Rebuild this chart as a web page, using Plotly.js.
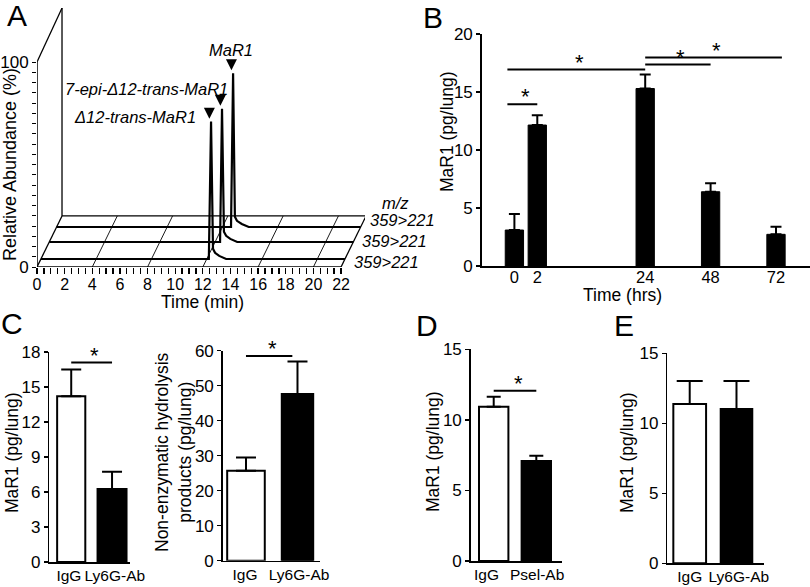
<!DOCTYPE html>
<html><head><meta charset="utf-8">
<script src="https://cdn.plot.ly/plotly-3.0.1.min.js"></script>
<style>html,body{margin:0;padding:0;background:#fff}#chart{width:810px;height:587px}</style>
</head><body><div id="chart"></div>
<script>
// ---------------- DATA ----------------
// Panel A: LC-MS/MS chromatograms (m/z 359>221), time (min) vs relative abundance (%)
const peakNames = ['Δ12-trans-MaR1', '7-epi-Δ12-trans-MaR1', 'MaR1'];
const transitions = ['359>221', '359>221', '359>221'];
const timeD12 = [0, 12.15, 12.31, 12.45, 12.6, 12.9, 13.4, 22];
const abundD12 = [0, 0, 67, 5, 3, 1.5, 0, 0];
const time7epi = [0, 12.36, 12.5, 12.64, 12.8, 13.1, 13.6, 22];
const abund7epi = [0, 0, 65, 5, 3, 1.5, 0, 0];
const timeMaR1 = [0, 12.62, 12.77, 12.9, 13.05, 13.4, 13.9, 22];
const abundMaR1 = [0, 0, 75, 5, 3, 1.5, 0, 0];
const timeTickLabels = ['0','2','4','6','8','10','12','14','16','18','20','22'];

// Panel B: MaR1 time course
const hrsLabels = ['0', '2', '24', '48', '72'];
const mar1Course = [3.1, 12.15, 15.3, 6.4, 2.73];
const mar1CourseErr = [1.38, 0.85, 1.2, 0.73, 0.66];

// Panel C
const groupsC = ['IgG', 'Ly6G-Ab'];
const mar1C = [14.2, 6.25];
const mar1CErr = [2.3, 1.48];
const hydroC = [25.7, 47.6];
const hydroCErr = [3.8, 9.3];

// Panel D
const groupsD = ['IgG', 'Psel-Ab'];
const mar1D = [10.93, 7.08];
const mar1DErr = [0.71, 0.38];

// Panel E
const groupsE = ['IgG', 'Ly6G-Ab'];
const mar1E = [11.38, 11.02];
const mar1EErr = [1.64, 2.0];

// ---------------- LAYOUT HELPERS ----------------
const W = 810, H = 587;
const PX = v => v / W, PY = v => 1 - v / H;
const FONT = 'Liberation Sans, Arial, Helvetica, sans-serif';
const BLACK = '#000';

const frames = {
  A:  {x0: 37,    x1: 365,   y0: 8,     y1: 267,   xr: [0, 328 / 13.82], yr: [0, 259 / 2.05]},
  B:  {x0: 481.7, x1: 810,   y0: 34,    y1: 266,   xr: [-0.5, 4.52],   yr: [0, 20]},
  C1: {x0: 49.3,  x1: 130,   y0: 352,   y1: 562,   xr: [-0.537, 1.44], yr: [0, 18]},
  C2: {x0: 222.7, x1: 320,   y0: 350.7, y1: 560.7, xr: [-0.452, 1.437], yr: [0, 60]},
  D:  {x0: 470.7, x1: 561.7, y0: 349.3, y1: 561,   xr: [-0.54, 1.596], yr: [0, 15]},
  E:  {x0: 667.3, x1: 764,   y0: 353.3, y1: 563.3, xr: [-0.479, 1.588], yr: [0, 15]}
};
const unitPx = f => (f.y1 - f.y0) / (f.yr[1] - f.yr[0]);

function xAxis(f, n, extra) {
  return Object.assign({
    domain: [PX(f.x0), PX(f.x1)], range: f.xr, anchor: n === 1 ? 'y' : 'y' + n,
    showgrid: false, zeroline: false, tickangle: 0, ticklabelstandoff: -4,
    showline: true, linecolor: BLACK, linewidth: 1.5, ticks: '', fixedrange: true,
    tickfont: {family: FONT, size: 16.5, color: BLACK}
  }, extra || {});
}
function catAxis(f, n, cats, shift) {
  return xAxis(f, n, {type: 'category', tickmode: 'array', tickvals: [shift[0], 1 + shift[1]],
    ticktext: cats, ticklabelstandoff: -1, tickfont: {family: FONT, size: 15.5, color: BLACK}});
}
function yAxis(f, n, dtick, extra) {
  return Object.assign({
    domain: [PY(f.y1), PY(f.y0)], range: f.yr, anchor: n === 1 ? 'x' : 'x' + n,
    showgrid: false, zeroline: false,
    showline: true, linecolor: BLACK, linewidth: 1.5, ticks: 'outside', ticklen: 4,
    tickwidth: 1.5, tickcolor: BLACK, tickmode: 'linear', tick0: 0, dtick: dtick,
    fixedrange: true, tickfont: {family: FONT, size: 17, color: BLACK}
  }, extra || {});
}
function errY(arr, capHalf) {
  return {type: 'data', symmetric: false, array: arr, arrayminus: arr.map(() => 0),
          color: BLACK, thickness: 2, width: capHalf};
}

const traces = [];
const shapes = [];
const annotations = [];

// ---------------- PANEL A ----------------
const DT = 1.81, DI = 24.9;            // floor depth in (min, %)
const depth = [0.157, 0.49, 0.784];     // lane depth of each chromatogram
const chroms = [[timeD12, abundD12], [time7epi, abund7epi], [timeMaR1, abundMaR1]];
const uA = unitPx(frames.A);

const ln = (x0, y0, x1, y1, w) => ({type: 'line', xref: 'x', yref: 'y', x0, y0, x1, y1,
  line: {color: BLACK, width: w}, layer: 'below'});
shapes.push(ln(0, 0, 22, 0, 1.3));
shapes.push(ln(22, 0, 22 + DT, DI, 1.3));
shapes.push(ln(DT, DI, 22 + DT, DI, 1.3));
shapes.push(ln(0, 0, DT, DI, 1.3));
[4, 8, 12, 16, 20].forEach(t => shapes.push(ln(t, 0, t + DT, DI, 0.9)));
shapes.push(ln(0, 0, 0, 100, 1.5));
shapes.push(ln(DT, DI, DT, 126.3, 1.3));
shapes.push(ln(0, 100, DT, 126.3, 1.3));

const tipX = [], tipY = [];
chroms.forEach(([t, a], k) => {
  traces.push({
    type: 'scatter', mode: 'lines', xaxis: 'x', yaxis: 'y', hoverinfo: 'skip',
    name: peakNames[k],
    x: t.map(v => v + depth[k] * DT), y: a.map(v => v + depth[k] * DI),
    line: {color: BLACK, width: 2.2}
  });
  const ip = a.indexOf(Math.max(...a));
  tipX.push(t[ip] + depth[k] * DT - 0.12);
  tipY.push(a[ip] + depth[k] * DI + 3 / uA);
  annotations.push({
    xref: 'paper', yref: 'paper', x: PX([368, 360, 352][2 - k]), y: PY([220, 241, 262][2 - k]),
    xanchor: 'left', yanchor: 'middle', showarrow: false,
    text: '<i>' + transitions[k] + '</i>', font: {family: FONT, size: 16.5, color: BLACK}
  });
});
// peak arrowheads
traces.push({type: 'scatter', mode: 'markers', xaxis: 'x', yaxis: 'y', hoverinfo: 'skip',
  x: tipX, y: tipY, marker: {symbol: 'arrow-down', size: 11, color: BLACK, line: {width: 0}}});

annotations.push({xref: 'paper', yref: 'paper', x: PX(380), y: PY(203), xanchor: 'left',
  yanchor: 'middle', showarrow: false, text: '<i>m/z</i>', font: {family: FONT, size: 16.5, color: BLACK}});
[[198, 117, 'right'], [230, 89, 'right'], [231, 50, 'center']].forEach(([x, y, anc], k) => {
  annotations.push({xref: 'paper', yref: 'paper', x: PX(x), y: PY(y), xanchor: anc,
    yanchor: 'middle', showarrow: false, text: '<i>' + peakNames[k] + '</i>',
    font: {family: FONT, size: 16.5, color: BLACK}});
});

const aTickVals = [], aTickText = [];
for (let i = 0; i <= 44; i++) { aTickVals.push(i / 2); aTickText.push(i % 4 === 0 ? timeTickLabels[i / 4] : ''); }
const aYVals = [], aYText = [];
for (let v = 0; v <= 100; v += 5) { aYVals.push(v); aYText.push(v === 0 || v === 100 ? String(v) : ''); }

// ---------------- PANEL B ----------------
const slots = [0, 0.35, 2, 3, 4];
traces.push({type: 'bar', xaxis: 'x2', yaxis: 'y2', x: slots, y: mar1Course, width: 0.28,
  marker: {color: BLACK, line: {color: BLACK, width: 1}}, error_y: errY(mar1CourseErr, 5.5),
  hoverinfo: 'skip'});

// ---------------- PANEL C, D, E ----------------
function groupBars(xa, ya, cats, vals, errs, widths, cap) {
  traces.push({type: 'bar', xaxis: xa, yaxis: ya, x: cats, y: vals, width: widths,
    marker: {color: ['#fff', BLACK], line: {color: BLACK, width: 2}},
    error_y: errY(errs, cap), hoverinfo: 'skip'});
}
groupBars('x3', 'y3', groupsC, mar1C, mar1CErr, [0.69, 0.71], 10);
groupBars('x4', 'y4', groupsC, hydroC, hydroCErr, [0.73, 0.61], 10);
groupBars('x5', 'y5', groupsD, mar1D, mar1DErr, [0.69, 0.69], 7);
groupBars('x6', 'y6', groupsE, mar1E, mar1EErr, [0.70, 0.675], 13);

function sig(xa, ya, xs, xe, yl) {
  shapes.push({type: 'line', xref: xa, yref: ya, x0: xs, x1: xe, y0: yl, y1: yl,
    line: {color: BLACK, width: 2}});
  annotations.push({xref: xa, yref: ya, x: (xs + xe) / 2, y: yl, text: '*', showarrow: false,
    xanchor: 'center', yanchor: 'bottom', xshift: 3, yshift: -7,
    font: {family: FONT, size: 22, color: BLACK}});
}
const uB = unitPx(frames.B);
const topB = mar1Course.map((v, i) => v + mar1CourseErr[i]);
sig('x2', 'y2', -0.107, slots[1], topB[1] + 11 / uB);
sig('x2', 'y2', -0.107, slots[2], topB[2] + 5 / uB);
sig('x2', 'y2', slots[2], slots[3], topB[2] + 10 / uB);
sig('x2', 'y2', slots[2], slots[4] + 0.09, topB[2] + 17 / uB);

const tops = (v, e) => Math.max(...v.map((x, i) => x + e[i]));
sig('x3', 'y3', 0, 1, tops(mar1C, mar1CErr) + 7 / unitPx(frames.C1));
sig('x4', 'y4', 0, 0.9, tops(hydroC, hydroCErr) + 5.5 / unitPx(frames.C2));
sig('x5', 'y5', 0, 1, tops(mar1D, mar1DErr) + 6 / unitPx(frames.D));

// ---------------- TITLES / LETTERS ----------------
function txt(x, y, text, size, angle) {
  annotations.push({xref: 'paper', yref: 'paper', x: PX(x), y: PY(y), text,
    showarrow: false, xanchor: 'center', yanchor: 'middle', textangle: angle || 0,
    font: {family: FONT, size: size, color: BLACK}});
}
txt(17, 15, 'A', 30); txt(433, 17, 'B', 30); txt(12, 323, 'C', 30);
txt(427, 325, 'D', 30); txt(624, 325, 'E', 30);
txt(10, 165, 'Relative Abundance (%)', 18, -90);
txt(202, 302, 'Time (min)', 17.5);
txt(447, 131, 'MaR1 (pg/lung)', 17.5, -90);
txt(622, 295, 'Time (hrs)', 17.5);
txt(12, 453, 'MaR1 (pg/lung)', 17.5, -90);
txt(173, 452, 'Non-enzymatic hydrolysis<br>products (pg/lung)', 17.5, -90);
txt(433, 452, 'MaR1 (pg/lung)', 17.5, -90);
txt(627, 453, 'MaR1 (pg/lung)', 17.5, -90);

const layout = {
  width: W, height: H, margin: {l: 0, r: 0, t: 0, b: 0},
  paper_bgcolor: '#fff', plot_bgcolor: 'rgba(0,0,0,0)', showlegend: false,
  font: {family: FONT, color: BLACK},
  xaxis: xAxis(frames.A, 1, {showline: false, ticks: 'outside', ticklen: 6, tickwidth: 1.3,
    tickcolor: BLACK, tickmode: 'array', tickvals: aTickVals, ticktext: aTickText,
    ticklabelstandoff: -3, tickfont: {family: FONT, size: 16, color: BLACK}}),
  yaxis: yAxis(frames.A, 1, 5, {showline: false, tickmode: 'array', tickvals: aYVals, ticktext: aYText,
    ticklen: 4, tickwidth: 1, tickfont: {family: FONT, size: 17, color: BLACK}}),
  xaxis2: xAxis(frames.B, 2, {tickmode: 'array', tickvals: slots, ticktext: hrsLabels}),
  yaxis2: yAxis(frames.B, 2, 5),
  xaxis3: catAxis(frames.C1, 3, groupsC, [-0.057, 0.068]),
  yaxis3: yAxis(frames.C1, 3, 3),
  xaxis4: catAxis(frames.C2, 4, groupsC, [-0.02, 0.03]),
  yaxis4: yAxis(frames.C2, 4, 10),
  xaxis5: catAxis(frames.D, 5, groupsD, [-0.17, 0.02]),
  yaxis5: yAxis(frames.D, 5, 5),
  xaxis6: catAxis(frames.E, 6, groupsE, [0, 0.05]),
  yaxis6: yAxis(frames.E, 6, 5),
  shapes, annotations
};
Plotly.newPlot('chart', traces, layout, {staticPlot: true, displayModeBar: false});
</script></body></html>
